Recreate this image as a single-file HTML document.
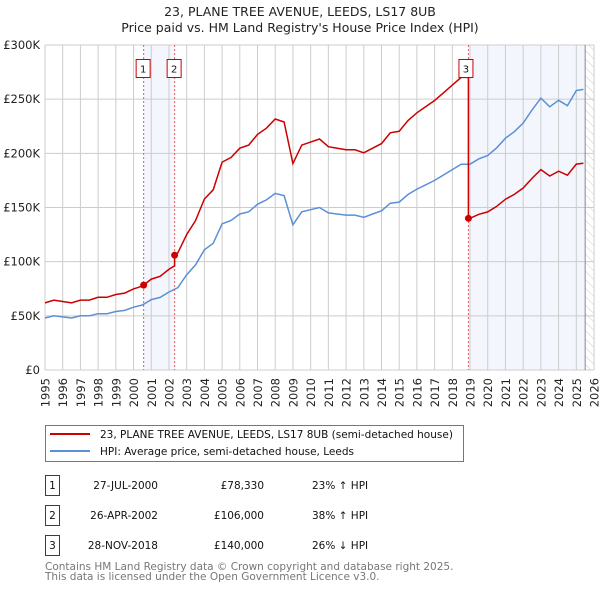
<!DOCTYPE html>
<html><head><meta charset="utf-8"><style>
body{margin:0;background:#fff;font-family:"DejaVu Sans","Liberation Sans",sans-serif;}
svg text{font-family:"DejaVu Sans","Liberation Sans",sans-serif;}
</style></head><body>
<svg id="c" width="600" height="590" xmlns="http://www.w3.org/2000/svg">
<defs><pattern id="hatch" width="6" height="6" patternUnits="userSpaceOnUse" patternTransform="rotate(-45)"><line x1="0" y1="0" x2="0" y2="6" stroke="#ccc" stroke-width="1"/></pattern></defs>
<text x="300" y="16" text-anchor="middle" font-size="12.5" fill="#222">23, PLANE TREE AVENUE, LEEDS, LS17 8UB</text>
<text x="300" y="32" text-anchor="middle" font-size="12.5" fill="#222">Price paid vs. HM Land Registry's House Price Index (HPI)</text>
<g id="plot"></g>
<g>
<rect x="45.5" y="425.5" width="418" height="36" fill="#fff" stroke="#777"/>
<line x1="50" y1="434" x2="90" y2="434" stroke="#cc0000" stroke-width="2"/>
<text x="100" y="438" font-size="10.5" fill="#111">23, PLANE TREE AVENUE, LEEDS, LS17 8UB (semi-detached house)</text>
<line x1="50" y1="451" x2="90" y2="451" stroke="#5b8fd6" stroke-width="2"/>
<text x="100" y="455" font-size="10.5" fill="#111">HPI: Average price, semi-detached house, Leeds</text>
</g>
<g id="table" font-size="10.5" fill="#111"></g>
<text x="45" y="570" font-size="10.5" fill="#777">Contains HM Land Registry data © Crown copyright and database right 2025.</text>
<text x="45" y="580" font-size="10.5" fill="#777">This data is licensed under the Open Government Licence v3.0.</text>
</svg>
<script>
const hpiYears=[1995,1995.5,1996,1996.5,1997,1997.5,1998,1998.5,1999,1999.5,2000,2000.5,2001,2001.5,2002,2002.5,2003,2003.5,2004,2004.5,2005,2005.5,2006,2006.5,2007,2007.5,2008,2008.5,2009,2009.5,2010,2010.5,2011,2011.5,2012,2012.5,2013,2013.5,2014,2014.5,2015,2015.5,2016,2016.5,2017,2017.5,2018,2018.5,2019,2019.5,2020,2020.5,2021,2021.5,2022,2022.5,2023,2023.5,2024,2024.5,2025,2025.4];
const hpiValues=[48,50,49,48,50,50,52,52,54,55,58,60,65,67,72,76,88,97,111,117,135,138,144,146,153,157,163,161,134,146,148,150,145,144,143,143,141,144,147,154,155,162,167,171,175,180,185,190,190,195,198,205,214,220,228,240,251,243,249,244,258,259];
const saleYears=[2000.57,2002.32,2018.91];
const salePrices=[78.33,106,140];
const saleLabels=["1","2","3"];
const saleDates=["27-JUL-2000","26-APR-2002","28-NOV-2018"];
const salePriceText=["£78,330","£106,000","£140,000"];
const saleHpiText=["23% ↑ HPI","38% ↑ HPI","26% ↓ HPI"];
const yTicks=[0,50,100,150,200,250,300];
const yTickLabels=["£0","£50K","£100K","£150K","£200K","£250K","£300K"];
const xTicks=[1995,1996,1997,1998,1999,2000,2001,2002,2003,2004,2005,2006,2007,2008,2009,2010,2011,2012,2013,2014,2015,2016,2017,2018,2019,2020,2021,2022,2023,2024,2025,2026];
const X0=45,X1=594,Y0=370,Y1=45;
const xs=t=>X0+(t-1995)/(2026-1995)*(X1-X0);
const ys=v=>Y0-v/300*(Y0-Y1);
const NS="http://www.w3.org/2000/svg";
const plot=document.getElementById('plot');
function mk(tag,attrs,parent){const e=document.createElementNS(NS,tag);for(const k in attrs)e.setAttribute(k,attrs[k]);(parent||plot).appendChild(e);return e;}
function hpiAt(t){for(let i=0;i<hpiYears.length-1;i++){if(t<=hpiYears[i+1]){const f=(t-hpiYears[i])/(hpiYears[i+1]-hpiYears[i]);return hpiValues[i]+f*(hpiValues[i+1]-hpiValues[i]);}}return hpiValues[hpiValues.length-1];}
let r=mk('rect',{x:xs(saleYears[0]),y:Y1,width:xs(saleYears[1])-xs(saleYears[0]),height:Y0-Y1,fill:'#eef3fc',opacity:0.7});


r=mk('rect',{x:xs(saleYears[2]),y:Y1,width:xs(2025.5)-xs(saleYears[2]),height:Y0-Y1,fill:'#eef3fc',opacity:0.7});


r=mk('rect',{x:xs(2025.5),y:Y1,width:X1-xs(2025.5),height:Y0-Y1,fill:'url(#hatch)'});


xTicks.forEach((t,i)=>{
 const l=mk('line',{x1:xs(t),x2:xs(t),y1:Y1,y2:Y0,stroke:'#ccc','stroke-width':1});
 
 
 const tx=mk('text',{x:0,y:0,'text-anchor':'end','font-size':11.5,fill:'#222',transform:'translate('+(xs(t)+4.5)+',378) rotate(-90)'});
 tx.textContent=t;
 
 
});
yTicks.forEach((v,i)=>{
 const l=mk('line',{x1:X0,x2:X1,y1:ys(v),y2:ys(v),stroke:'#ccc','stroke-width':1});
 
 
 const tx=mk('text',{x:40,y:ys(v)+4,'text-anchor':'end','font-size':11.5,fill:'#222'});
 tx.textContent=yTickLabels[i];
 
 
});
let ln=mk('line',{x1:xs(2025.5),x2:xs(2025.5),y1:Y1,y2:Y0,stroke:'#888','stroke-width':1});


saleYears.forEach((t,i)=>{
 const l=mk('line',{x1:xs(t),x2:xs(t),y1:Y1,y2:Y0,stroke:'#e06060','stroke-width':1,'stroke-dasharray':'2,2'});
 
 
});
const hp=hpiYears.map((t,i)=>xs(t).toFixed(1)+','+ys(hpiValues[i]).toFixed(1)).join(' ');
let pl=mk('polyline',{points:hp,fill:'none',stroke:'#5b8fd6','stroke-width':1.5});


function ratioAt(t){let k=0;for(let i=0;i<saleYears.length;i++)if(t>=saleYears[i])k=i;return salePrices[k]/hpiAt(saleYears[k]);}
let pts=[];
const times=hpiYears.concat(saleYears).sort((a,b)=>a-b);
times.forEach(t=>{
 const si=saleYears.indexOf(t);
 if(si>0){const pr=salePrices[si-1]/hpiAt(saleYears[si-1]);pts.push([t,hpiAt(t)*pr]);}
 pts.push([t,hpiAt(t)*ratioAt(t)]);
});
pl=mk('polyline',{points:pts.map(p=>xs(p[0]).toFixed(1)+','+ys(p[1]).toFixed(1)).join(' '),fill:'none',stroke:'#cc0000','stroke-width':1.5});


saleYears.forEach((t,i)=>{
 const c=mk('circle',{cx:xs(t),cy:ys(salePrices[i]),r:3.5,fill:'#cc0000'});
 
 
 const bx=xs(t)-(i==2?2:0);
 const b=mk('rect',{x:bx-7.5,y:59.5,width:14,height:18,fill:'#fff',stroke:'#cc0000'});
 
 
 const tx=mk('text',{x:bx-0.5,y:72.5,'text-anchor':'middle','font-size':10,fill:'#111'});
 tx.textContent=saleLabels[i];
 
 
});
const tb=document.getElementById('table');
saleLabels.forEach((s,i)=>{
 const yy=475+i*30;
 const b=mk('rect',{x:45.5,y:yy+0.5,width:14,height:20,fill:'#fff',stroke:'#cc0000'},tb);
 
 
 let t=mk('text',{x:52.5,y:yy+14,'text-anchor':'middle'},tb);t.textContent=s;
 
 
 t=mk('text',{x:158,y:yy+14,'text-anchor':'end'},tb);t.textContent=saleDates[i];
 
 
 t=mk('text',{x:264,y:yy+14,'text-anchor':'end'},tb);t.textContent=salePriceText[i];
 
 
 t=mk('text',{x:312,y:yy+14},tb);t.textContent=saleHpiText[i];
 
 
});
</script>
</body></html>
